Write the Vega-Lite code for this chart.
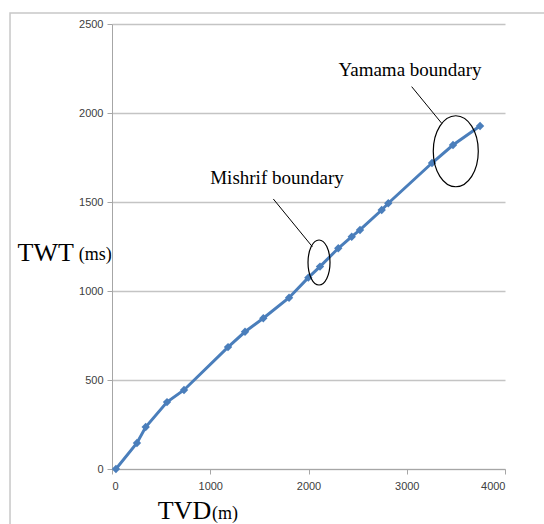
{
  "$schema": "https://vega.github.io/schema/vega-lite/v6.json",
  "width": 393,
  "height": 445,
  "autosize": "none",
  "padding": {"left": 112, "top": 24, "right": 39, "bottom": 55},
  "background": "white",
  "config": {"view": {"stroke": null}},
  "datasets": {
    "well": [
      {"x": 40, "y": 0}, {"x": 254, "y": 146}, {"x": 343, "y": 236}, {"x": 560, "y": 376},
      {"x": 733, "y": 444}, {"x": 1181, "y": 685}, {"x": 1354, "y": 771}, {"x": 1540, "y": 847},
      {"x": 1802, "y": 962}, {"x": 1998, "y": 1075}, {"x": 2117, "y": 1137}, {"x": 2303, "y": 1240},
      {"x": 2440, "y": 1305}, {"x": 2524, "y": 1343}, {"x": 2745, "y": 1455}, {"x": 2812, "y": 1493},
      {"x": 3257, "y": 1719}, {"x": 3471, "y": 1820}, {"x": 3746, "y": 1927}
    ],
    "border": [{"x": -1038, "x2": 4700, "y": 2562, "y2": -500}],
    "leaders": [
      {"x": 1642, "y": 1517, "x2": 2039, "y2": 1249},
      {"x": 3050, "y": 2148, "x2": 3356, "y2": 1942}
    ],
    "ellipses": [
      {"name": "Mishrif", "x": 2107, "y": 1160},
      {"name": "Yamama", "x": 3499, "y": 1785}
    ],
    "notes": [
      {"label": "Mishrif boundary", "x": 1679, "y": 1635},
      {"label": "Yamama boundary", "x": 3033, "y": 2242}
    ],
    "units": [
      {"label": "(ms)", "x": -170, "y": 1200},
      {"label": "(m)", "x": 1150, "y": -250}
    ]
  },
  "encoding": {
    "x": {
      "field": "x", "type": "quantitative",
      "scale": {"domain": [0, 4000], "nice": false, "zero": false},
      "axis": {
        "values": [0, 1000, 2000, 3000, 4000], "format": "d",
        "grid": false,
        "domainColor": "#a6a6a6", "tickColor": "#a6a6a6", "tickSize": 5,
        "labelFont": "Liberation Sans", "labelFontSize": 11, "labelColor": "#404040", "labelPadding": 6,
        "title": "TVD", "titleFont": "Liberation Serif", "titleFontSize": 26, "titleFontWeight": "normal",
        "titleColor": "#000000", "titleAlign": "center", "titleBaseline": "alphabetic",
        "titleX": 72, "titleY": 49
      }
    },
    "y": {
      "field": "y", "type": "quantitative",
      "scale": {"domain": [0, 2500], "nice": false, "zero": false},
      "axis": {
        "values": [0, 500, 1000, 1500, 2000, 2500], "format": "d",
        "grid": true, "gridColor": "#c4c4c4", "gridWidth": 1.3,
        "domainColor": "#a6a6a6", "tickColor": "#a6a6a6", "tickSize": 5,
        "labelFont": "Liberation Sans", "labelFontSize": 11, "labelColor": "#404040", "labelPadding": 4,
        "title": "TWT", "titleFont": "Liberation Serif", "titleFontSize": 26, "titleFontWeight": "normal",
        "titleColor": "#000000", "titleAngle": 0, "titleAlign": "left", "titleBaseline": "alphabetic",
        "titleX": -95, "titleY": 236
      }
    }
  },
  "layer": [
    {
      "data": {"name": "border"},
      "mark": {"type": "rect", "fillOpacity": 0, "stroke": "#c8c8c8", "strokeWidth": 1.5, "clip": false},
      "encoding": {"x2": {"field": "x2"}, "y2": {"field": "y2"}}
    },
    {
      "data": {"name": "well"},
      "mark": {"type": "line", "color": "#4a7ebb", "strokeWidth": 3},
      "encoding": {}
    },
    {
      "data": {"name": "well"},
      "mark": {"type": "point", "shape": "diamond", "filled": true, "color": "#4a7ebb", "size": 70, "opacity": 1},
      "encoding": {}
    },
    {
      "data": {"name": "leaders"},
      "mark": {"type": "rule", "color": "#000000", "strokeWidth": 1},
      "encoding": {"x2": {"field": "x2"}, "y2": {"field": "y2"}}
    },
    {
      "data": {"name": "ellipses"},
      "transform": [{"filter": "datum.name === 'Mishrif'"}],
      "mark": {"type": "point", "filled": false, "stroke": "#000000", "strokeWidth": 1.2, "opacity": 1,
        "shape": "M -0.489 0 A 0.489 1 0 1 0 0.489 0 A 0.489 1 0 1 0 -0.489 0 Z", "size": 2025},
      "encoding": {}
    },
    {
      "data": {"name": "ellipses"},
      "transform": [{"filter": "datum.name === 'Yamama'"}],
      "mark": {"type": "point", "filled": false, "stroke": "#000000", "strokeWidth": 1.2, "opacity": 1,
        "shape": "M -0.634 0 A 0.634 1 0 1 0 0.634 0 A 0.634 1 0 1 0 -0.634 0 Z", "size": 5041},
      "encoding": {}
    },
    {
      "data": {"name": "notes"},
      "mark": {"type": "text", "font": "Liberation Serif", "fontSize": 19, "color": "#000000", "align": "center", "baseline": "middle"},
      "encoding": {"text": {"field": "label"}}
    },
    {
      "data": {"name": "units"},
      "mark": {"type": "text", "font": "Liberation Serif", "fontSize": 18, "color": "#000000", "align": "center", "baseline": "middle", "clip": false},
      "encoding": {"text": {"field": "label"}}
    }
  ]
}
